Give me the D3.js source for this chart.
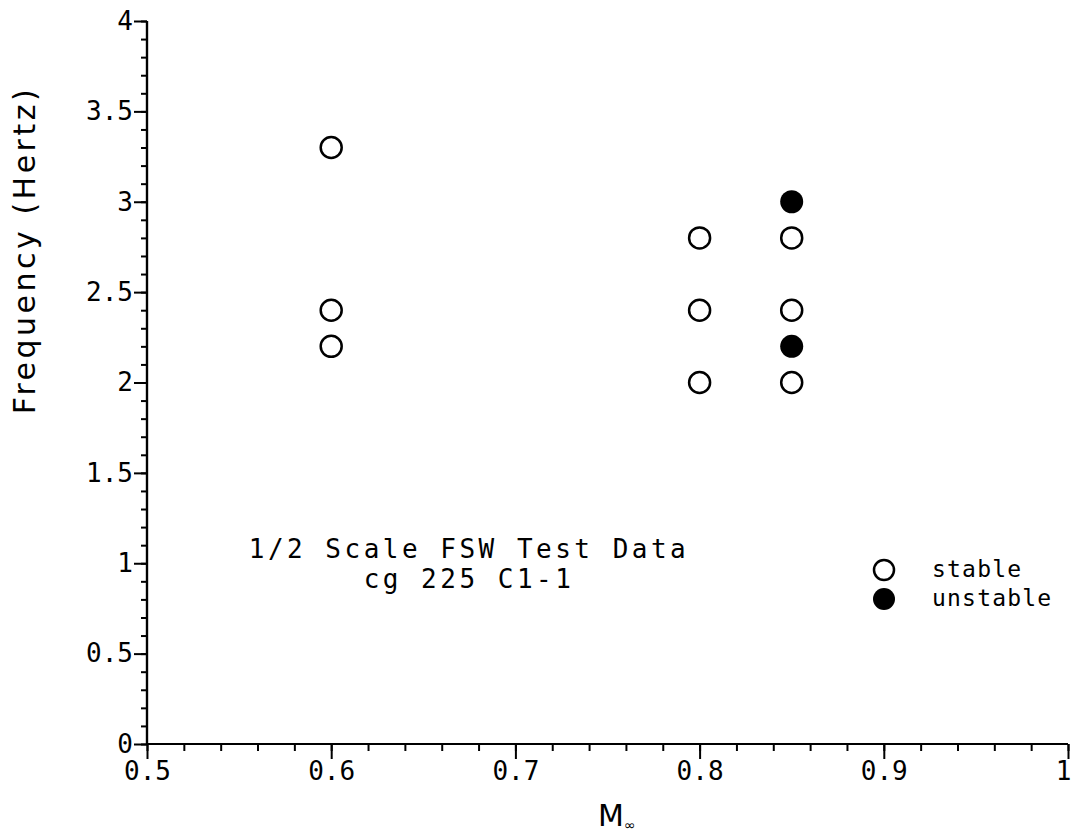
<!DOCTYPE html>
<html><head><meta charset="utf-8">
<script src="https://cdn.jsdelivr.net/npm/d3@7"></script>
<style>body{margin:0;background:#fff}svg text{fill:#000}</style>
</head><body><svg id="c" width="1071" height="835"></svg>
<script>
const machStable = [0.6, 0.6, 0.6, 0.8, 0.8, 0.8, 0.85, 0.85, 0.85];
const freqStable = [3.3, 2.4, 2.2, 2.8, 2.4, 2.0, 2.8, 2.4, 2.0];
const machUnstable = [0.85, 0.85];
const freqUnstable = [3.0, 2.2];
const xTicks = [0.5, 0.6, 0.7, 0.8, 0.9, 1];
const xTickLabels = ["0.5", "0.6", "0.7", "0.8", "0.9", "1"];
const yTicks = [0, 0.5, 1, 1.5, 2, 2.5, 3, 3.5, 4];
const yTickLabels = ["0", "0.5", "1", "1.5", "2", "2.5", "3", "3.5", "4"];
const legendLabels = ["stable", "unstable"];
const annotation = ["1/2 Scale FSW Test Data", "cg 225 C1-1"];

const svg = d3.select("#c");
const x = d3.scaleLinear().domain([0.5, 1]).range([147, 1068]);
const y = d3.scaleLinear().domain([0, 4]).range([744, 21]);
const font = "'DejaVu Sans Mono', monospace";

// x axis
const xMinor = d3.range(0.5, 1.0001, 0.02);
const gx = svg.append("g").attr("transform", `translate(0,${y(0)})`);
gx.call(d3.axisBottom(x).tickValues(xMinor).tickSize(7).tickFormat(""));
gx.call(g => g.append("g").call(d3.axisBottom(x).tickValues(xTicks).tickSize(15)
  .tickFormat((d, i) => xTickLabels[i])));
gx.selectAll(".domain").attr("stroke-width", 2.2).attr("d", `M${x(0.5)},0H${x(1)}`);
gx.selectAll("line").attr("stroke-width", 2);
gx.selectAll("text").attr("font-family", font).attr("font-size", 26).attr("y", 18).attr("dy", "0.71em")
  .attr("dx", (d) => d === 1 ? -5 : 0);

// y axis
const yMinor = d3.range(0, 4.0001, 0.1);
const gy = svg.append("g").attr("transform", `translate(${x(0.5)},0)`);
gy.call(d3.axisLeft(y).tickValues(yMinor).tickSize(6).tickFormat(""));
gy.call(g => g.append("g").call(d3.axisLeft(y).tickValues(yTicks).tickSize(13)
  .tickFormat((d, i) => yTickLabels[i])));
gy.selectAll(".domain").attr("stroke-width", 2.2).attr("d", `M0,${y(0)}V${y(4)}`);
gy.selectAll("line").attr("stroke-width", 2);
gy.selectAll("text").attr("font-family", font).attr("font-size", 26).attr("x", -14);

// axis titles
svg.append("text").attr("transform", `translate(35,${(85+415)/2}) rotate(-90)`)
  .attr("text-anchor", "middle").attr("font-family", "'DejaVu Sans', sans-serif")
  .attr("font-size", 30).attr("letter-spacing", 3.5).text("Frequency (Hertz)");
const mt = svg.append("text").attr("x", 598).attr("y", 826)
  .attr("font-family", "'DejaVu Sans', sans-serif").attr("font-size", 30);
mt.append("tspan").text("M");
mt.append("tspan").attr("font-size", 14).attr("dy", 4).text("∞");

// points
const pts = svg.append("g");
pts.selectAll("circle.s").data(machStable.map((m, i) => [m, freqStable[i]])).join("circle")
  .attr("cx", d => x(d[0])).attr("cy", d => y(d[1])).attr("r", 10.5)
  .attr("fill", "none").attr("stroke", "#000").attr("stroke-width", 2.5);
pts.selectAll("circle.u").data(machUnstable.map((m, i) => [m, freqUnstable[i]])).join("circle")
  .attr("cx", d => x(d[0])).attr("cy", d => y(d[1])).attr("r", 11.5)
  .attr("fill", "#000");

// annotation
svg.selectAll("text.ann").data(annotation).join("text")
  .attr("x", 469).attr("y", (d, i) => 558 + i * 30)
  .attr("text-anchor", "middle").attr("font-family", font)
  .attr("font-size", 26).attr("letter-spacing", 3.5).text(d => d);

// legend
const lg = svg.append("g");
legendLabels.forEach((t, i) => {
  const cy = 570 + i * 29;
  lg.append("circle").attr("cx", 884).attr("cy", cy).attr("r", i ? 11 : 10)
    .attr("fill", i ? "#000" : "none").attr("stroke", "#000").attr("stroke-width", i ? 0 : 2.5);
  lg.append("text").attr("x", 932).attr("y", cy + 7).attr("font-family", font)
    .attr("font-size", 23).attr("letter-spacing", 1.2).text(t);
});
</script></body></html>
